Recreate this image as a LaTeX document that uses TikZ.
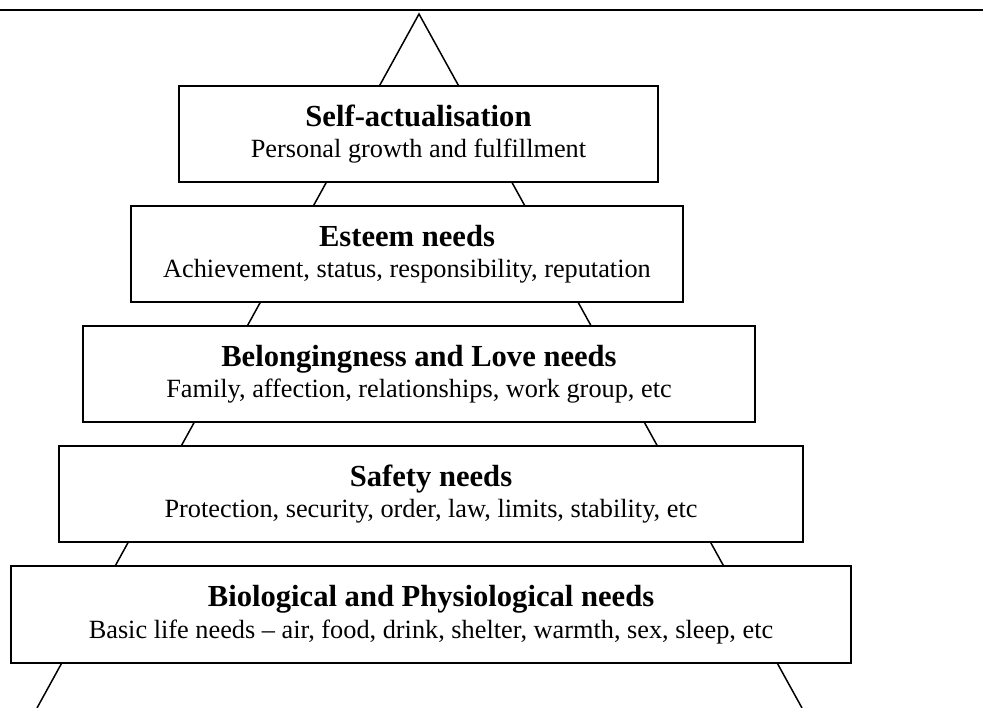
\documentclass[tikz,border=0pt]{standalone}
\usepackage{fontspec}
\setmainfont{Liberation Serif}
\usetikzlibrary{positioning}
\newcommand{\needhead}[1]{{\fontsize{30.6}{31.5}\selectfont\bfseries #1}}

\begin{document}
\begin{tikzpicture}[x=1pt,y=-1pt,
        needbox/.style={draw, line width=2pt, fill=white, align=center, inner sep=0pt,
            minimum height=96pt, font=\fontsize{26.3}{31.5}\selectfont}]
    \useasboundingbox (0,0) rectangle (983,708);
    \draw[line width=2.8pt] (0,10) -- (983,10);
    % pyramid outline, behind the boxes
    \coordinate (apex) at (419,14);
    \coordinate (baseL) at (37,708);
    \coordinate (baseR) at (802,708);
    \draw[line width=1.5pt] (baseL) -- (apex) -- (baseR);
    \node[needbox, minimum width=479pt] (self) at (418.5,134) {\needhead{Self-actualisation}\\Personal growth and fulfillment};
    \node[needbox, minimum width=552pt] (esteem) at (407,254) {\needhead{Esteem needs}\\Achievement, status, responsibility, reputation};
    \node[needbox, minimum width=672pt] (belong) at (419,374) {\needhead{Belongingness and Love needs}\\Family, affection, relationships, work group, etc};
    \node[needbox, minimum width=744pt] (safety) at (431,494) {\needhead{Safety needs}\\Protection, security, order, law, limits, stability, etc};
    \node[needbox, minimum width=840pt, minimum height=97pt] (bio) at (431,614.5) {\needhead{Biological and Physiological needs}\\Basic life needs – air, food, drink, shelter, warmth, sex, sleep, etc};
\end{tikzpicture}
\end{document}
